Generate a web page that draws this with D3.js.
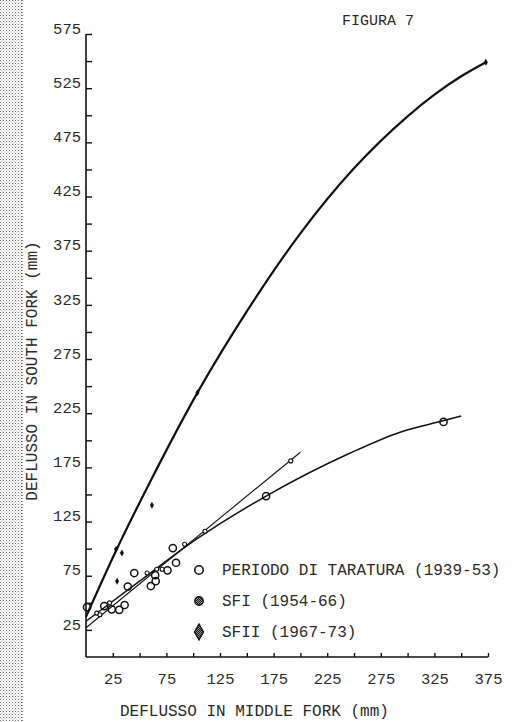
<!DOCTYPE html>
<html>
<head>
<meta charset="utf-8">
<script src="https://cdn.jsdelivr.net/npm/d3@7"></script>
<style>
  html, body { margin: 0; padding: 0; background: #fff; }
  svg { display: block; }
  text { font-family: "Liberation Mono", "DejaVu Sans Mono", monospace; fill: #2a2a2a; }
</style>
</head>
<body>
<svg id="chart" width="515" height="722"></svg>
<script>
// Axis ranges and ticks (mm)
const xDomain = [0, 375];
const yDomain = [0, 575];
const xTickValues = [25, 50, 75, 100, 125, 150, 175, 200, 225, 250, 275, 300, 325, 350, 375];
const xTickLabels = [25, 75, 125, 175, 225, 275, 325, 375];
const yTickValues = [25, 50, 75, 100, 125, 150, 175, 200, 225, 250, 275, 300, 325, 350, 375, 400, 425, 450, 475, 500, 525, 550, 575];
const yTickLabels = [25, 75, 125, 175, 225, 275, 325, 375, 425, 475, 525, 575];

// Calibration period (1939-53): Middle Fork vs South Fork runoff
const periodoX = [1, 17, 24, 31, 36, 39, 45, 60.5, 64.5, 65, 76, 81, 84, 168, 333.5];
const periodoY = [46, 47, 44, 43.5, 48, 65, 77.5, 65.5, 75.5, 70, 80, 100.5, 87, 148.5, 217];

// SFI (1954-66)
const sfiX = [10, 13, 22, 57, 66, 71, 92, 111, 191];
const sfiY = [40.5, 39, 50, 77.5, 81, 81, 104, 116, 181];

// SFII (1967-73)
const sfiiX = [28, 33.5, 29, 61.5, 104, 373];
const sfiiY = [99.5, 96, 70, 140, 244, 549];

// Fitted relations
const upperX = [0, 28, 60, 104, 150, 200, 250, 300, 325, 350, 373];
const upperY = [37, 98, 162, 244, 319, 391, 451, 499, 519, 536, 549];
const straightX = [0, 200];
const straightY = [27, 189];
const lowerX = [0, 50, 102, 168, 246, 293, 333, 350];
const lowerY = [33, 70, 108, 148.5, 188, 207.5, 218, 222.5];

const legendLabels = ["PERIODO DI TARATURA (1939-53)", "SFI (1954-66)", "SFII (1967-73)"];

const svg = d3.select("#chart");
const x = d3.scaleLinear().domain(xDomain).range([86, 488]);
const y = d3.scaleLinear().domain(yDomain).range([657, 34]);

// halftone strip along the left edge of the sheet
const defs = svg.append("defs");
const pat = defs.append("pattern").attr("id", "dots").attr("width", 3).attr("height", 3)
  .attr("patternUnits", "userSpaceOnUse");
pat.append("rect").attr("x", 0).attr("y", 0).attr("width", 1).attr("height", 1).attr("fill", "#777");
pat.append("rect").attr("x", 1.5).attr("y", 1.5).attr("width", 1).attr("height", 1).attr("fill", "#aaa");
const pat2 = defs.append("pattern").attr("id", "fill").attr("width", 2).attr("height", 2)
  .attr("patternUnits", "userSpaceOnUse");
pat2.append("rect").attr("width", 2).attr("height", 2).attr("fill", "#999");
pat2.append("rect").attr("width", 1).attr("height", 1).attr("fill", "#111");
pat2.append("rect").attr("x", 1).attr("y", 1).attr("width", 1).attr("height", 1).attr("fill", "#111");
svg.append("rect").attr("x", 0).attr("y", 0).attr("width", 22).attr("height", 722).attr("fill", "url(#dots)");
svg.append("line").attr("x1", 22).attr("x2", 22).attr("y1", 0).attr("y2", 722)
  .attr("stroke", "#333").attr("stroke-dasharray", "1,2").attr("stroke-width", 1);

// axes
const xAxis = d3.axisBottom(x).tickValues(xTickValues).tickSize(-4).tickPadding(10)
  .tickFormat(d => xTickLabels.includes(d) ? String(d) : "");
const yAxis = d3.axisLeft(y).tickValues(yTickValues).tickSize(-6).tickPadding(5)
  .tickFormat(d => yTickLabels.includes(d) ? String(d) : "");

const gx = svg.append("g").attr("transform", `translate(0,${y(0)})`).call(xAxis);
gx.select(".domain").attr("d", `M${x(0)},0H${x(375)}`).attr("stroke", "#111").attr("stroke-width", 1.6);
gx.selectAll(".tick line").attr("stroke", "#111").attr("stroke-width", 1.4);
gx.selectAll(".tick text").attr("font-size", 15.5).attr("font-family", "Liberation Mono").attr("fill", "#2a2a2a")
  .attr("dy", "1.1em");

const gy = svg.append("g").attr("transform", `translate(${x(0)},0)`).call(yAxis);
gy.select(".domain").attr("d", `M0,${y(575)}V${y(0)}`).attr("stroke", "#111").attr("stroke-width", 1.6);
gy.selectAll(".tick line").attr("stroke", "#111").attr("stroke-width", 1.4);
gy.selectAll(".tick text").attr("font-size", 15.5).attr("font-family", "Liberation Mono").attr("fill", "#2a2a2a")
  .attr("dy", "-0.05em");

// fitted lines
const zip = (a, b) => a.map((v, i) => [v, b[i]]);
const smooth = d3.line().x(d => x(d[0])).y(d => y(d[1])).curve(d3.curveMonotoneX);
const straight = d3.line().x(d => x(d[0])).y(d => y(d[1]));
svg.append("path").datum(zip(upperX, upperY)).attr("d", smooth)
  .attr("fill", "none").attr("stroke", "#111").attr("stroke-width", 2.2);
svg.append("path").datum(zip(straightX, straightY)).attr("d", straight)
  .attr("fill", "none").attr("stroke", "#111").attr("stroke-width", 1.1);
svg.append("path").datum(zip(lowerX, lowerY)).attr("d", smooth)
  .attr("fill", "none").attr("stroke", "#111").attr("stroke-width", 1.5);

// points
svg.append("g").selectAll("circle").data(zip(periodoX, periodoY)).join("circle")
  .attr("cx", d => x(d[0])).attr("cy", d => y(d[1])).attr("r", 3.6)
  .attr("fill", "none").attr("stroke", "#111").attr("stroke-width", 1.5);
svg.append("g").selectAll("circle").data(zip(sfiX, sfiY)).join("circle")
  .attr("cx", d => x(d[0])).attr("cy", d => y(d[1])).attr("r", 2)
  .attr("fill", "#fff").attr("stroke", "#111").attr("stroke-width", 1.1);
svg.append("g").selectAll("path").data(zip(sfiiX, sfiiY)).join("path")
  .attr("transform", d => `translate(${x(d[0])},${y(d[1])})`)
  .attr("d", d3.symbol(d3.symbolDiamond, 14))
  .attr("fill", "#111");

// title
svg.append("text").attr("x", 342).attr("y", 25).attr("font-size", 15).text("FIGURA 7");

// axis titles
svg.append("text").attr("x", 120).attr("y", 716).attr("font-size", 16).text("DEFLUSSO IN MIDDLE FORK (mm)");
svg.append("text").attr("transform", "translate(37,371) rotate(-90)")
  .attr("text-anchor", "middle").attr("font-size", 16).text("DEFLUSSO IN SOUTH FORK (mm)");

// legend
const legendY = [570, 601, 632];
const lg = svg.append("g");
lg.append("circle").attr("cx", 199).attr("cy", legendY[0]).attr("r", 4.2)
  .attr("fill", "none").attr("stroke", "#111").attr("stroke-width", 1.6);
lg.append("circle").attr("cx", 199).attr("cy", legendY[1]).attr("r", 4.2)
  .attr("fill", "url(#fill)").attr("stroke", "#111").attr("stroke-width", 1.4);
lg.append("path").attr("transform", `translate(199,${legendY[2]})`)
  .attr("d", d3.symbol(d3.symbolDiamond, 70)).attr("fill", "url(#fill)").attr("stroke", "#111").attr("stroke-width", 1.4);
lg.selectAll("text").data(legendLabels).join("text")
  .attr("x", 222).attr("y", (d, i) => legendY[i] + 5).attr("font-size", 16).text(d => d);
</script>
</body>
</html>
